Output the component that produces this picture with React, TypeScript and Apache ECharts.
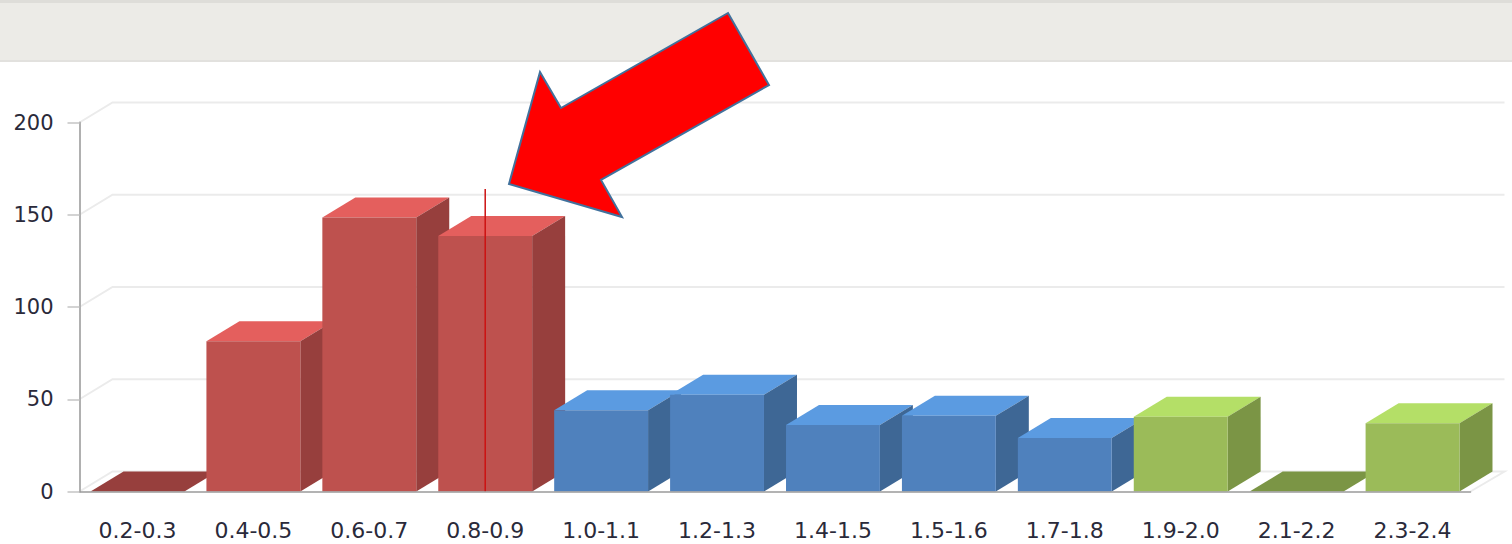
import React, { useEffect, useRef } from "react";
import * as echarts from "echarts";

const categories = ["0.2-0.3", "0.4-0.5", "0.6-0.7", "0.8-0.9", "1.0-1.1", "1.2-1.3", "1.4-1.5", "1.5-1.6", "1.7-1.8", "1.9-2.0", "2.1-2.2", "2.3-2.4"];
const counts = [0, 81.5, 148.5, 138.5, 44, 52.5, 36, 41, 29, 40.5, 0, 37];
const groups = ["red", "red", "red", "red", "blue", "blue", "blue", "blue", "blue", "green", "green", "green"];
const wallTicks = [0, 50, 100, 150, 200];
const markerCategory = [3];
const markerValue = [164];

const palette: Record<string, { front: string; top: string; side: string }> = {
  red: { front: "#BE514E", top: "#E45F5D", side: "#973F3D" },
  blue: { front: "#4F81BD", top: "#5B9BE1", side: "#3E6795" },
  green: { front: "#9BBB59", top: "#B4DF67", side: "#7B9545" },
};

const DX = 33;
const DY = 20;
const TEXT = "#2a2a3a";

export default function App() {
  const ref = useRef<HTMLDivElement>(null);
  useEffect(() => {
    document.body.style.margin = "0";
    const chart = echarts.init(ref.current!, null, { renderer: "svg" });
    chart.setOption({
      animation: false,
      backgroundColor: "#ffffff",
      textStyle: { fontFamily: "DejaVu Sans" },
      grid: { left: 79.5, right: 41.5, top: 122.5, bottom: 52.5, containLabel: false },
      xAxis: {
        type: "category",
        data: categories,
        z: 4,
        axisLine: { lineStyle: { color: "#9a9a9a", width: 1.5 } },
        axisTick: { alignWithLabel: true, length: 11, lineStyle: { color: "#b8b8b8", width: 1.5 } },
        axisLabel: { color: TEXT, fontSize: 22, margin: 28, interval: 0, fontFamily: "DejaVu Sans" },
        splitLine: { show: false },
      },
      yAxis: {
        type: "value",
        min: 0,
        max: 200,
        interval: 50,
        z: 4,
        axisLine: { show: true, lineStyle: { color: "#b0b0b0", width: 2 } },
        axisTick: { show: true, length: 12, lineStyle: { color: "#c4c4c4", width: 1.5 } },
        axisLabel: { color: TEXT, fontSize: 21, margin: 26, fontFamily: "DejaVu Sans" },
        splitLine: { show: false },
      },
      graphic: [
        { type: "rect", z: 0, shape: { x: 0, y: 0, width: 1512, height: 3 }, style: { fill: "#DEDDD9" } },
        { type: "rect", z: 0, shape: { x: 0, y: 3, width: 1512, height: 58 }, style: { fill: "#ECEBE7" } },
        { type: "rect", z: 0, shape: { x: 0, y: 60, width: 1512, height: 2 }, style: { fill: "#E2E1DE" } },
        {
          type: "polygon",
          z: 100,
          shape: { points: [[728, 13], [769, 85], [601, 180], [622, 217], [509, 184], [540, 72], [561, 108]] },
          style: { fill: "#FF0000", stroke: "#41719C", lineWidth: 2 },
        },
      ],
      series: [
        {
          type: "custom",
          z: 1,
          silent: true,
          clip: false,
          encode: { x: 0, y: 1 },
          data: wallTicks.map((v) => [0, v]),
          renderItem: (params: any, api: any) => {
            const v = api.value(1);
            const y = api.coord([0, v])[1];
            const x0 = params.coordSys.x;
            const x1 = x0 + params.coordSys.width;
            const points = [[x0, y], [x0 + DX, y - DY], [x1 + DX + 1, y - DY]];
            if (v === 0) points.push([x1, y]);
            return {
              type: "polyline",
              shape: { points },
              style: { fill: "none", stroke: "#EBEBEB", lineWidth: 2 },
            };
          },
        },
        {
          type: "custom",
          z: 2,
          silent: true,
          clip: false,
          encode: { x: 0, y: 1 },
          data: counts.map((v, i) => [i, v]),
          renderItem: (params: any, api: any) => {
            const i = api.value(0);
            const v = api.value(1);
            const c = api.coord([i, v]);
            const base = api.coord([i, 0]);
            const w = api.size([1, 0])[0] * 0.81;
            const l = c[0] - w / 2;
            const r = c[0] + w / 2;
            const t = c[1];
            const b = base[1];
            const col = palette[groups[i]];
            const flat = v === 0;
            return {
              type: "group",
              children: [
                {
                  type: "polygon",
                  shape: { points: [[l, t], [l + DX, t - DY], [r + DX, t - DY], [r, t]] },
                  style: { fill: flat ? col.side : col.top },
                },
                {
                  type: "polygon",
                  shape: { points: [[r, t], [r + DX, t - DY], [r + DX, b - DY], [r, b]] },
                  style: { fill: col.side },
                },
                {
                  type: "polygon",
                  shape: { points: [[l, t], [r, t], [r, b], [l, b]] },
                  style: { fill: col.front },
                },
              ],
            };
          },
        },
        {
          type: "custom",
          z: 3,
          silent: true,
          clip: false,
          encode: { x: 0, y: 1 },
          data: markerCategory.map((c, i) => [c, markerValue[i]]),
          renderItem: (_params: any, api: any) => {
            const top = api.coord([api.value(0), api.value(1)]);
            const bottom = api.coord([api.value(0), 0]);
            return {
              type: "line",
              shape: { x1: top[0], y1: top[1], x2: bottom[0], y2: bottom[1] },
              style: { stroke: "#CC1111", lineWidth: 1.5 },
            };
          },
        },
      ],
    });
    return () => chart.dispose();
  }, []);
  return <div ref={ref} style={{ position: "absolute", left: 0, top: 0, width: 1512, height: 544 }} />;
}
